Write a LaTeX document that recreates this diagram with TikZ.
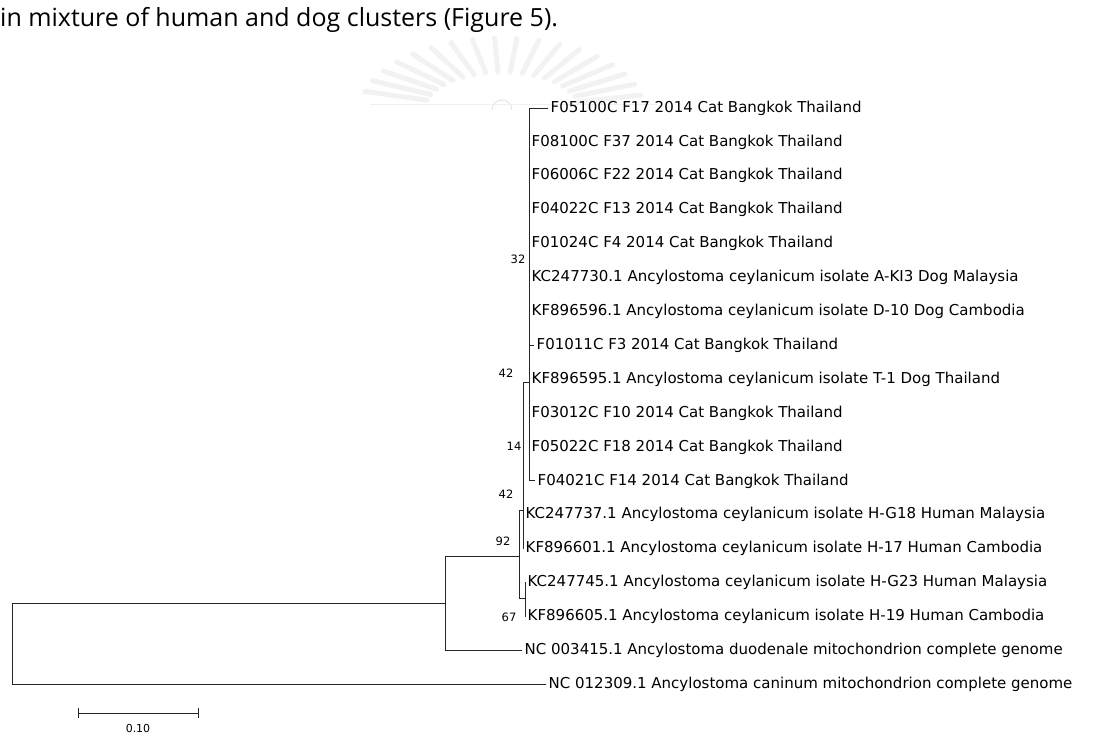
\documentclass[tikz,border=0pt]{standalone}
\usepackage{fontspec}
\setmainfont{DejaVu Sans}
\newfontfamily\thesisfont{Open Sans}
\usetikzlibrary{positioning}

\begin{document}
\begin{tikzpicture}[x=1pt,y=-1pt,
  branch/.style={line width=0.9pt, draw=black!85, line cap=rect},
  taxon/.style={anchor=west, inner sep=0pt, xshift=2.5pt,
    font=\fontsize{15}{17}\selectfont},
  boot/.style={inner sep=0pt, font=\fontsize{11.5}{13}\selectfont},
  ray/.style={line width=5pt, draw=black!5, line cap=round},
  ]
  \useasboundingbox (0,0) rectangle (1100,751);

  % faint watermark behind the caption
  \coordinate (seal) at (502,110);
  \foreach \a in {12,21,...,168}
    \draw[ray] ([shift={(-\a:78 and 38)}]seal) -- ([shift={(-\a:142 and 72)}]seal);
  \draw[black!10, line width=1pt] ([shift={(0:10)}]seal) arc[start angle=0, end angle=-180, radius=10];
  \draw[black!6, line width=1pt] (370,105) -- (657,105);

  \node[anchor=west, inner sep=0pt, font=\thesisfont\fontsize{25}{28}\selectfont]
    (caption) at (0,20) {in mixture of human and dog clusters (Figure 5).};

  % tips: row / end of branch / name
  \foreach \i/\x/\lab in {
    1/548/F05100C F17 2014 Cat Bangkok Thailand,
    2/529/F08100C F37 2014 Cat Bangkok Thailand,
    3/529/F06006C F22 2014 Cat Bangkok Thailand,
    4/529/F04022C F13 2014 Cat Bangkok Thailand,
    5/529/F01024C F4 2014 Cat Bangkok Thailand,
    6/529/KC247730.1 Ancylostoma ceylanicum isolate A-KI3 Dog Malaysia,
    7/529/KF896596.1 Ancylostoma ceylanicum isolate D-10 Dog Cambodia,
    8/534/F01011C F3 2014 Cat Bangkok Thailand,
    9/529/KF896595.1 Ancylostoma ceylanicum isolate T-1 Dog Thailand,
    10/529/F03012C F10 2014 Cat Bangkok Thailand,
    11/529/F05022C F18 2014 Cat Bangkok Thailand,
    12/535/F04021C F14 2014 Cat Bangkok Thailand,
    13/523/KC247737.1 Ancylostoma ceylanicum isolate H-G18 Human Malaysia,
    14/523/KF896601.1 Ancylostoma ceylanicum isolate H-17 Human Cambodia,
    15/525/KC247745.1 Ancylostoma ceylanicum isolate H-G23 Human Malaysia,
    16/525/KF896605.1 Ancylostoma ceylanicum isolate H-19 Human Cambodia,
    17/522/NC 003415.1 Ancylostoma duodenale mitochondrion complete genome,
    18/546/NC 012309.1 Ancylostoma caninum mitochondrion complete genome}
  {
    \coordinate (e\i) at (\x,{108+33.9*(\i-1)});
    \node[taxon] (t\i) at (e\i) {\lab};
  }

  % internal nodes
  \coordinate (cats) at (529,382);
  \coordinate (n42a) at (523,382);
  \coordinate (n42b) at (523,510);
  \coordinate (n92) at (519,556);
  \coordinate (n67) at (525,598);
  \coordinate (nout) at (445,556);
  \coordinate (root) at (12,603);

  % cat clade
  \draw[branch] (e1 -| cats) -- (e12 -| cats);
  \draw[branch] (e1 -| cats) -- (e1);
  \draw[branch] (e8 -| cats) -- (e8);
  \draw[branch] (e12 -| cats) -- (e12);
  \draw[branch] (cats) -- (n42a) -- (e14 -| n42a);
  % human clade
  \draw[branch] (n42b -| n92) -- (n42b);
  \draw[branch] (n42b -| n92) -- (n67 -| n92) -- (n67);
  \draw[branch] (e15) -- (e16);
  % outer
  \draw[branch] (nout) -- (n92);
  \draw[branch] (nout) -- (e17 -| nout) -- (e17);
  \draw[branch] (root -| nout) -- (root) -- (e18 -| root) -- (e18);

  % bootstrap values
  \node[boot] (b32) at (518,259) {32};
  \node[boot] (b42a) at (506,373) {42};
  \node[boot] (b14) at (514,446) {14};
  \node[boot] (b42b) at (506,494) {42};
  \node[boot] (b92) at (503,541) {92};
  \node[boot] (b67) at (509,617) {67};

  % scale
  \coordinate (sa) at (78,713);
  \coordinate (sb) at (198,713);
  \coordinate (smid) at (138,713);
  \draw[branch, line cap=butt] (sa) -- (sb);
  \draw[branch, line cap=butt] ([yshift=-5pt]sa) -- ([yshift=5pt]sa);
  \draw[branch, line cap=butt] ([yshift=-5pt]sb) -- ([yshift=5pt]sb);
  \node[boot, font=\fontsize{11}{13}\selectfont, below=11pt of smid] (scale) {0.10};
\end{tikzpicture}
\end{document}
